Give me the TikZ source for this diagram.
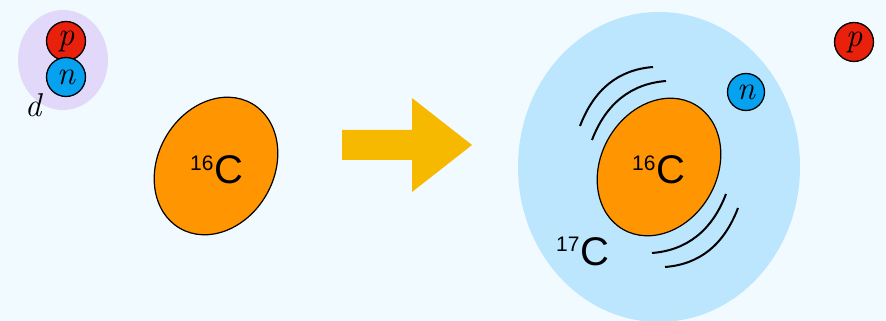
\documentclass[tikz,border=0pt]{standalone}
\usepackage{fontspec}
\setsansfont{Liberation Sans}
\usepackage{tikz}
\usetikzlibrary{positioning}
\definecolor{bgsky}{HTML}{F0FAFF}
\definecolor{deutlav}{HTML}{E1D8FA}
\definecolor{protonred}{HTML}{E8200C}
\definecolor{neutronblue}{HTML}{06A2F0}
\definecolor{coreorange}{HTML}{FF9500}
\definecolor{arrowgold}{HTML}{F7B900}
\definecolor{haloblue}{HTML}{BCE6FD}
\newcommand{\isotope}[2]{{\sffamily\raisebox{13.5pt}{\fontsize{21}{21}\selectfont #1}\kern1.5pt\fontsize{40}{40}\selectfont #2}}
\tikzset{
  nucleon/.style={circle,draw=black,line width=1.3pt,minimum size=39pt,inner sep=0pt,font=\fontsize{33}{33}\selectfont\itshape},
  proton/.style={nucleon,fill=protonred},
  neutron/.style={nucleon,fill=neutronblue},
  core/.style={fill=coreorange,draw=black,line width=1.2pt},
  wave/.style={draw=black,line width=2pt}
}
\begin{document}
\begin{tikzpicture}[x=1pt,y=1pt]
    \useasboundingbox (0,0) rectangle (886,321);
    \clip (0,0) rectangle (886,321);
    \fill[bgsky] (0,0) rectangle (886,321);
    % deuteron
    \fill[deutlav] (63,261) ellipse[x radius=45,y radius=50];
    \node[proton] (pleft) at (66,280) {p};
    \node[neutron] (nleft) at (66,244) {n};
    \node[font=\fontsize{33}{33}\selectfont\itshape] (dlabel) at (33,216) {d};
    % target
    \draw[core,rotate around={60:(216,155)}] (216,155) ellipse[x radius=72,y radius=58];
    \node[inner sep=0pt] (cleft) at (217,151) {\isotope{16}{C}};
    % reaction arrow
    \fill[arrowgold] (342,191) -- (412,191) -- (412,223) -- (472,176) -- (412,129) -- (412,161) -- (342,161) -- cycle;
    % 17C halo
    \fill[haloblue] (659,154) ellipse[x radius=141,y radius=155];
    \foreach \ang in {0,180}{
      \begin{scope}[rotate around={\ang:(659,154)}]
        \draw[wave] (580,195) .. controls (594,231.7) and (618.3,251.3) .. (653,254);
        \draw[wave] (592,181) .. controls (606,217.7) and (631.3,237.3) .. (666,240);
      \end{scope}
    }
    \draw[core,rotate around={60:(659,154)}] (659,154) ellipse[x radius=72,y radius=58];
    \node[inner sep=0pt] (cright) at (659,151) {\isotope{16}{C}};
    \node[inner sep=0pt] (chalo) at (583,69.5) {\isotope{17}{C}};
    \node[neutron,minimum size=37pt] (nright) at (746,229) {n};
    \node[proton] (pright) at (854,279) {p};
\end{tikzpicture}
\end{document}
